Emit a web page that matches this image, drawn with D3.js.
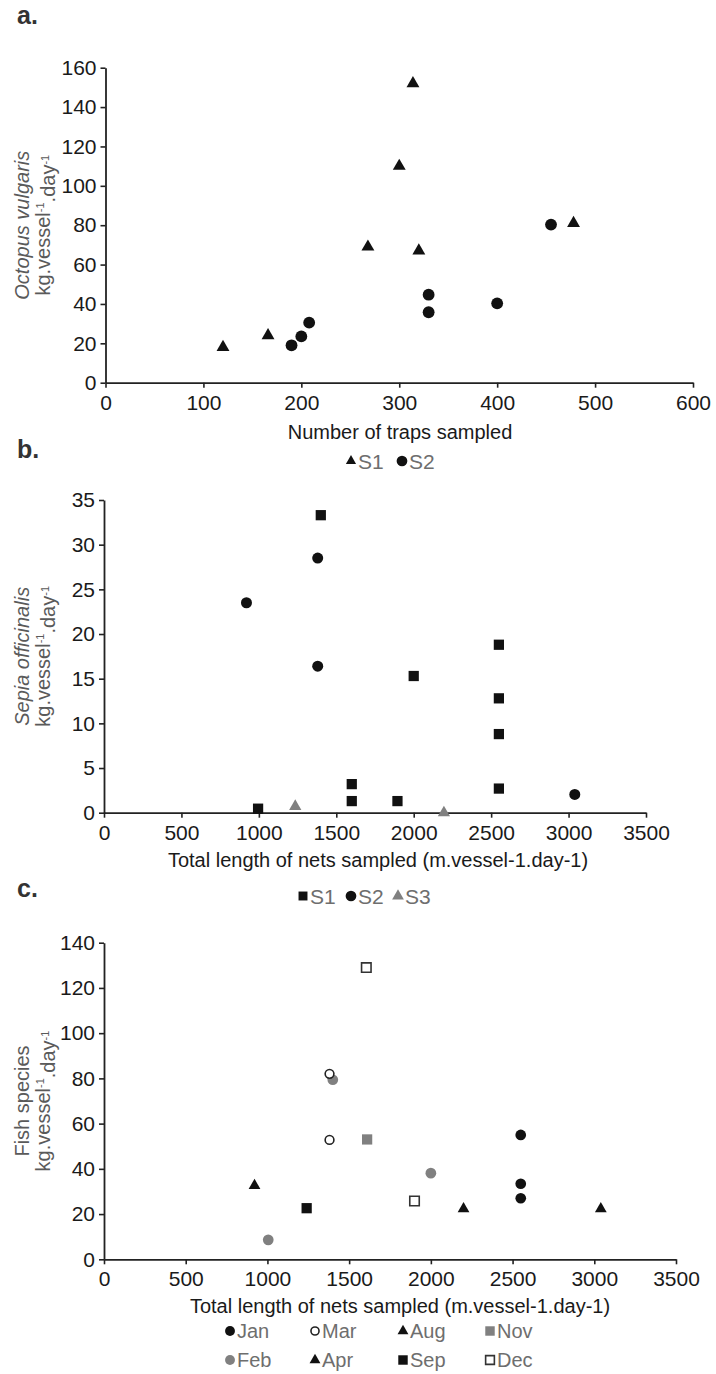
<!DOCTYPE html>
<html>
<head>
<meta charset="utf-8">
<script src="https://cdn.jsdelivr.net/npm/d3@7"></script>
<style>
  body { margin: 0; background: #fff; }
  svg { display: block; }
  text { font-family: "Liberation Sans", Arial, sans-serif; }
</style>
</head>
<body>
<div id="chart"></div>
<script>
// ---------------- data ----------------
// a. Octopus vulgaris catch vs number of traps
const trapsS1 = [120, 166, 268, 300, 314, 320, 478];
const octoS1  = [18, 24, 69, 110, 152, 67, 81];
const trapsS2 = [190, 200, 208, 330, 330, 400, 455];
const octoS2  = [19, 23.5, 30.5, 44.7, 35.8, 40.3, 80.3];
const ticksA_x = [0, 100, 200, 300, 400, 500, 600];
const ticksA_y = [0, 20, 40, 60, 80, 100, 120, 140, 160];

// b. Sepia officinalis catch vs net length
const netsS1  = [1400, 995, 1600, 1600, 1895, 2000, 2550, 2550, 2550, 2550];
const sepiaS1 = [33.3, 0.45, 3.2, 1.3, 1.3, 15.3, 18.8, 12.8, 8.8, 2.7];
const netsS2  = [920, 1380, 1380, 3040];
const sepiaS2 = [23.5, 28.5, 16.4, 2.05];
const netsS3  = [1235, 2195];
const sepiaS3 = [0.7, 0];
const ticksB_x = [0, 500, 1000, 1500, 2000, 2500, 3000, 3500];
const ticksB_y = [0, 5, 10, 15, 20, 25, 30, 35];

// c. Fish species catch vs net length, by month
const netsJan = [2550, 2550, 2550];  const fishJan = [55, 33.4, 27];
const netsFeb = [1005, 1400, 2000];  const fishFeb = [8.6, 79.4, 38.1];
const netsMar = [1380, 1380];        const fishMar = [82, 52.8];
const netsApr = [921, 2200];         const fishApr = [32.6, 22.3];
const netsAug = [3040];              const fishAug = [22.3];
const netsSep = [1240];              const fishSep = [22.6];
const netsNov = [1610];              const fishNov = [53];
const netsDec = [1605, 1900];        const fishDec = [129, 25.8];
const ticksC_x = [0, 500, 1000, 1500, 2000, 2500, 3000, 3500];
const ticksC_y = [0, 20, 40, 60, 80, 100, 120, 140];

const legendA = ['S1', 'S2'];
const legendB = ['S1', 'S2', 'S3'];
const legendC = [['Jan', 'Mar', 'Aug', 'Nov'], ['Feb', 'Apr', 'Sep', 'Dec']];

// ---------------- drawing ----------------
const W = 716, H = 1374;
const BLACK = '#111', GREY = '#808080', TXT = '#1a1a1a', LEG = '#6e6e6e';

const svg = d3.select('#chart').append('svg')
  .attr('width', W).attr('height', H);
svg.append('rect').attr('width', W).attr('height', H).attr('fill', '#fff');

const shapes = { tri: d3.symbolTriangle, circ: d3.symbolCircle, sq: d3.symbolSquare };

function marker(g, shape, size, style) {
  return g.append('path')
    .attr('d', d3.symbol().type(shapes[shape]).size(size)())
    .attr('fill', style.fill)
    .attr('stroke', style.stroke || 'none')
    .attr('stroke-width', style.sw || 0);
}

function zip(xs, ys) { return xs.map((v, i) => [v, ys[i]]); }

// one scatter panel: axes + titles
function panel(o) {
  const g = svg.append('g');
  const x = d3.scaleLinear().domain(o.xDomain).range(o.xRange);
  const y = d3.scaleLinear().domain(o.yDomain).range(o.yRange);

  const ax = g.append('g')
    .attr('transform', `translate(0,${o.yRange[0]})`)
    .call(d3.axisBottom(x).tickValues(o.xTicks).tickFormat(d3.format('d'))
      .tickSize(5).tickSizeOuter(0).tickPadding(7));
  const ay = g.append('g')
    .attr('transform', `translate(${o.xRange[0]},0)`)
    .call(d3.axisLeft(y).tickValues(o.yTicks).tickFormat(d3.format('d'))
      .tickSize(5).tickSizeOuter(0).tickPadding(4));

  [ax, ay].forEach(a => {
    a.select('.domain').attr('stroke', '#222').attr('stroke-width', 1.8);
    a.selectAll('.tick line').attr('stroke', '#222').attr('stroke-width', 1.6);
    a.selectAll('.tick text').attr('fill', TXT)
      .style('font-family', '"Liberation Sans", Arial, sans-serif')
      .style('font-size', '21px');
  });

  // x title
  g.append('text')
    .attr('x', o.xTitleX).attr('y', o.xTitleY)
    .attr('text-anchor', 'middle')
    .attr('fill', TXT).style('font-size', '20px')
    .text(o.xTitle);

  // y title (two lines, rotated)
  const cy = (o.yRange[0] + o.yRange[1]) / 2;
  g.append('text')
    .attr('transform', `translate(22,${cy}) rotate(-90)`)
    .attr('text-anchor', 'middle').attr('dy', '0.35em')
    .attr('fill', '#5a5a5a').style('font-size', '20px')
    .style('font-style', o.yItalic ? 'italic' : 'normal')
    .text(o.yTitle);
  const t2 = g.append('text')
    .attr('transform', `translate(43,${cy}) rotate(-90)`)
    .attr('text-anchor', 'middle').attr('dy', '0.35em')
    .attr('fill', '#5a5a5a').style('font-size', '20px');
  t2.append('tspan').text('kg.vessel');
  t2.append('tspan').attr('dy', '-0.55em').style('font-size', '11px').text('-1');
  t2.append('tspan').attr('dy', '0.55em').text('.day');
  t2.append('tspan').attr('dy', '-0.55em').style('font-size', '11px').text('-1');

  // panel letter
  g.append('text')
    .attr('x', 17).attr('y', o.letterY)
    .attr('fill', '#333').style('font-size', '25px').style('font-weight', 'bold')
    .text(o.letter);

  return { g, x, y };
}

function plotSeries(p, pts, shape, size, style) {
  pts.forEach(([vx, vy]) => {
    marker(p.g, shape, size, style).attr('transform', `translate(${p.x(vx)},${p.y(vy)})`);
  });
}

function legendItem(px, py, shape, size, style, label, fs) {
  const g = svg.append('g').attr('transform', `translate(${px},${py})`);
  marker(g, shape, size, style);
  g.append('text').attr('x', 7).attr('dy', '0.36em')
    .attr('fill', LEG).style('font-size', (fs || 21) + 'px').text(label);
}

// ---- panel a ----
const pa = panel({
  xDomain: [0, 600], xRange: [105.5, 693], xTicks: ticksA_x,
  yDomain: [0, 160], yRange: [382.7, 67.7], yTicks: ticksA_y,
  xTitle: 'Number of traps sampled', xTitleX: 400, xTitleY: 439,
  yTitle: 'Octopus vulgaris', yItalic: true,
  letter: 'a.', letterY: 24
});
plotSeries(pa, zip(trapsS1, octoS1), 'tri', 72, { fill: BLACK });
plotSeries(pa, zip(trapsS2, octoS2), 'circ', 110, { fill: BLACK });
legendItem(351, 461, 'tri', 45, { fill: BLACK }, legendA[0]);
legendItem(402, 461, 'circ', 90, { fill: BLACK }, legendA[1]);

// ---- panel b ----
const pb = panel({
  xDomain: [0, 3500], xRange: [104, 646], xTicks: ticksB_x,
  yDomain: [0, 35], yRange: [812.7, 500], yTicks: ticksB_y,
  xTitle: 'Total length of nets sampled (m.vessel-1.day-1)', xTitleX: 378, xTitleY: 867,
  yTitle: 'Sepia officinalis', yItalic: true,
  letter: 'b.', letterY: 458
});
plotSeries(pb, zip(netsS1, sepiaS1), 'sq', 105, { fill: BLACK });
plotSeries(pb, zip(netsS2, sepiaS2), 'circ', 95, { fill: BLACK });
plotSeries(pb, zip(netsS3, sepiaS3), 'tri', 65, { fill: GREY });
legendItem(303, 896, 'sq', 80, { fill: BLACK }, legendB[0]);
legendItem(351, 896, 'circ', 90, { fill: BLACK }, legendB[1]);
legendItem(398, 896, 'tri', 60, { fill: GREY }, legendB[2]);

// ---- panel c ----
const pc = panel({
  xDomain: [0, 3500], xRange: [104, 676], xTicks: ticksC_x,
  yDomain: [0, 140], yRange: [1259.3, 942.7], yTicks: ticksC_y,
  xTitle: 'Total length of nets sampled (m.vessel-1.day-1)', xTitleX: 400, xTitleY: 1313,
  yTitle: 'Fish species', yItalic: false,
  letter: 'c.', letterY: 897
});
const styleC = {
  Jan: ['circ', 90, { fill: BLACK }],
  Feb: ['circ', 90, { fill: GREY }],
  Mar: ['circ', 60, { fill: '#fff', stroke: '#222', sw: 1.6 }],
  Apr: ['tri', 60, { fill: BLACK }],
  Aug: ['tri', 60, { fill: BLACK }],
  Sep: ['sq', 105, { fill: BLACK }],
  Nov: ['sq', 105, { fill: GREY }],
  Dec: ['sq', 90, { fill: '#fff', stroke: '#333', sw: 1.6 }]
};
const seriesC = {
  Jan: zip(netsJan, fishJan), Feb: zip(netsFeb, fishFeb), Mar: zip(netsMar, fishMar),
  Apr: zip(netsApr, fishApr), Aug: zip(netsAug, fishAug), Sep: zip(netsSep, fishSep),
  Nov: zip(netsNov, fishNov), Dec: zip(netsDec, fishDec)
};
Object.keys(seriesC).forEach(m => {
  const [shape, size, style] = styleC[m];
  plotSeries(pc, seriesC[m], shape, size, style);
});
const legColX = [230, 315, 403, 490];
const legRowY = [1331, 1360];
legendC.forEach((row, r) => row.forEach((m, c) => {
  const [shape, size, style] = styleC[m];
  legendItem(legColX[c], legRowY[r], shape, size * 0.85, style, m, 20);
}));
</script>
</body>
</html>
